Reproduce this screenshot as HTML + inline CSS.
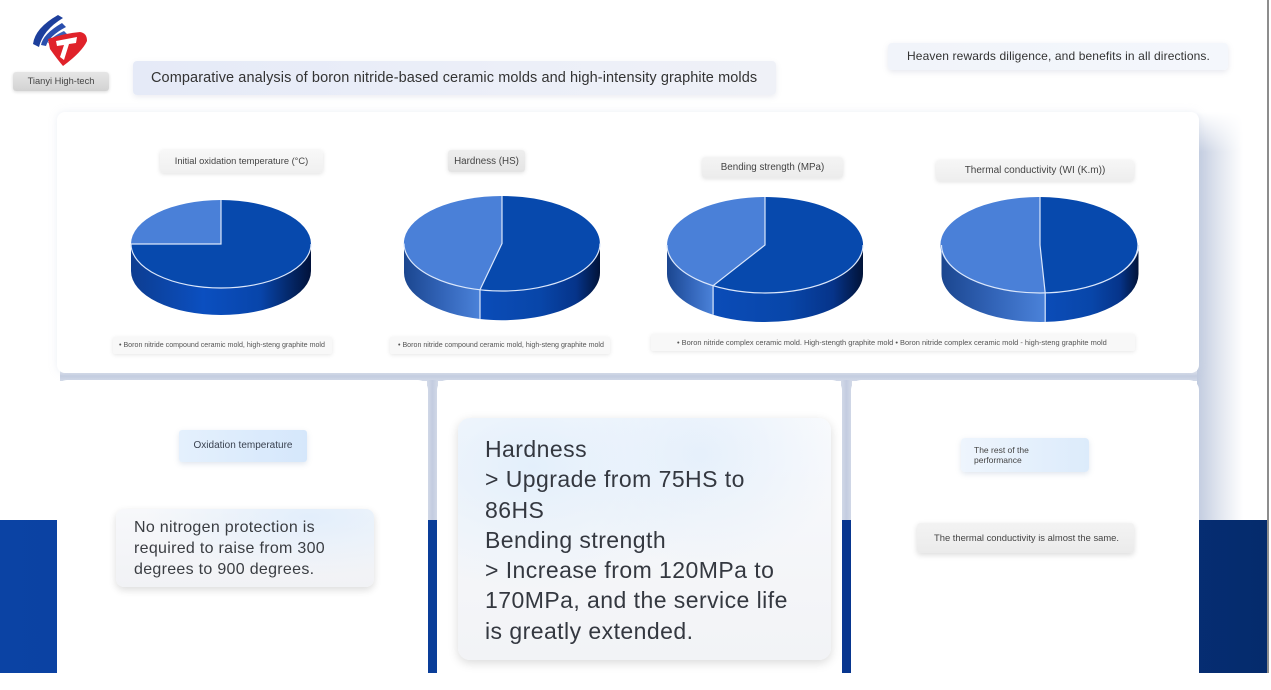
<!DOCTYPE html>
<html><head><meta charset="utf-8">
<style>
*{margin:0;padding:0;box-sizing:border-box}
html,body{width:1271px;height:673px;overflow:hidden;background:#fff;font-family:"Liberation Sans",sans-serif;color:#333}
.a{position:absolute}
.card{position:absolute;background:#fff}
.lbl{position:absolute;white-space:nowrap}
</style></head><body>
<!-- navy band -->
<div class="a" style="left:0;top:520px;width:1268px;height:153px;background:linear-gradient(90deg,#0b43a4 0%,#0a3d97 40%,#083791 65%,#052b6c 100%)"></div>
<!-- right edge line -->
<div class="a" style="left:1267px;top:0;width:2px;height:673px;background:#8d8d8d"></div>
<!-- shadows / gaps -->
<div class="a" style="left:60px;top:371px;width:1139px;height:10px;background:linear-gradient(180deg,#dfe4ee,#c4cde0 50%,#d3dae8)"></div>
<div class="a" style="left:427px;top:380px;width:11px;height:140px;background:linear-gradient(90deg,#d3dae8,#c3cce0 50%,#d3dae8)"></div>
<div class="a" style="left:841px;top:380px;width:11px;height:140px;background:linear-gradient(90deg,#d3dae8,#c3cce0 50%,#d3dae8)"></div>
<div class="a" style="left:1197px;top:112px;width:46px;height:408px;background:linear-gradient(90deg,#c1cbdf,#dfe4ee 45%,#fff);-webkit-mask-image:linear-gradient(180deg,transparent 0,#000 40px);mask-image:linear-gradient(180deg,transparent 0,#000 40px)"></div>
<!-- cards -->
<div class="card" style="left:57px;top:112px;width:1142px;height:261px;border-radius:8px;box-shadow:0 0 8px rgba(200,208,225,.35)"></div>
<div class="card" style="left:57px;top:380px;width:371px;height:310px;border-radius:10px"></div>
<div class="card" style="left:437px;top:380px;width:405px;height:310px;border-radius:10px"></div>
<div class="card" style="left:851px;top:380px;width:348px;height:310px;border-radius:10px"></div>

<!-- logo -->
<svg class="a" style="left:0;top:0" width="110" height="75" viewBox="0 0 110 75">
<path d="M33,44 Q35,28 58,15 L63,18 Q43,30 39,47 Z" fill="#1d3f9c"/>
<path d="M41,45 Q43,34 62,23 L66,27 Q49,36 46,46 Z" fill="#2a4fae"/>
<path d="M48,43 Q51,37 64,31 L67,34 Q57,38 53,44 Z" fill="#3a5fb8"/>
<path d="M48,39 Q66,33 80,32 Q87,33 87,41 Q82,52 63,66 Q57,59 50,49 Z" fill="#e0222a"/>
<path d="M56,41 L77,37 L76,43 L69,44 L64,60 L60,57 L64,45 L57,46 Z" fill="#fff"/>
</svg>
<div class="lbl" style="left:13px;top:72px;width:96px;height:19px;border-radius:3px;background:linear-gradient(180deg,#e6e6e6,#d2d2d2);box-shadow:0 1px 3px rgba(0,0,0,.15);font-size:9.3px;line-height:19px;text-align:center;color:#444">Tianyi High-tech</div>

<!-- title -->
<div class="lbl" style="left:133px;top:61px;width:643px;height:34px;border-radius:4px;background:linear-gradient(90deg,#e5eaf7,#eceff8 60%,#eff1f7);box-shadow:0 2px 6px rgba(120,130,160,.15);font-size:14.5px;letter-spacing:0.09px;line-height:34px;padding-left:18px;color:#333">Comparative analysis of boron nitride-based ceramic molds and high-intensity graphite molds</div>
<div class="lbl" style="left:888px;top:43px;width:340px;height:27px;border-radius:4px;background:linear-gradient(90deg,#f1f4fa,#f4f7fc);box-shadow:0 2px 6px rgba(120,130,160,.18);font-size:12px;letter-spacing:0.12px;line-height:27px;padding-left:19px;color:#333">Heaven rewards diligence, and benefits in all directions.</div>

<!-- pie title boxes -->
<div class="lbl" style="left:160px;top:150px;width:163px;height:23px;border-radius:3px;background:linear-gradient(180deg,#f8f8f8,#f0f0f0);box-shadow:0 1px 4px rgba(0,0,0,.12);font-size:9.3px;line-height:23px;text-align:center;color:#444">Initial oxidation temperature (°C)</div>
<div class="lbl" style="left:448px;top:150px;width:77px;height:22px;border-radius:3px;background:linear-gradient(180deg,#eeeeee,#e4e4e4);box-shadow:0 1px 4px rgba(0,0,0,.12);font-size:9.8px;line-height:23px;text-align:center;color:#444">Hardness (HS)</div>
<div class="lbl" style="left:702px;top:157px;width:141px;height:21px;border-radius:3px;background:linear-gradient(180deg,#f4f4f4,#ececec);box-shadow:0 1px 4px rgba(0,0,0,.12);font-size:9.8px;line-height:21px;text-align:center;color:#444">Bending strength (MPa)</div>
<div class="lbl" style="left:936px;top:160px;width:198px;height:21px;border-radius:3px;background:linear-gradient(180deg,#f6f6f6,#eeeeee);box-shadow:0 1px 4px rgba(0,0,0,.12);font-size:10px;line-height:21px;text-align:center;color:#444">Thermal conductivity (WI (K.m))</div>

<!-- legends -->
<div class="lbl" style="left:113px;top:337px;width:219px;height:17px;border-radius:2px;background:#f8f8f8;box-shadow:0 1px 4px rgba(0,0,0,.1);font-size:7.1px;line-height:17px;padding-left:6px;color:#555">• Boron nitride compound ceramic mold, high-steng graphite mold</div>
<div class="lbl" style="left:390px;top:337px;width:220px;height:17px;border-radius:2px;background:#f8f8f8;box-shadow:0 1px 4px rgba(0,0,0,.1);font-size:7.1px;line-height:17px;padding-left:8px;color:#555">• Boron nitride compound ceramic mold, high-steng graphite mold</div>
<div class="lbl" style="left:651px;top:334px;width:484px;height:17px;border-radius:2px;background:#f8f8f8;box-shadow:0 1px 4px rgba(0,0,0,.1);font-size:7.45px;line-height:17px;padding-left:26px;color:#555">• Boron nitride complex ceramic mold. High-stength graphite mold • Boron nitride complex ceramic mold - high-steng graphite mold</div>

<!-- pies -->
<svg class="a" style="left:0;top:0" width="1271" height="673" viewBox="0 0 1271 673">
<defs>
<linearGradient id="d1" x1="0" x2="1" y1="0" y2="0"><stop offset="0" stop-color="#0d3d91"/><stop offset=".4" stop-color="#0b4fc0"/><stop offset=".72" stop-color="#0845aa"/><stop offset="1" stop-color="#01123a"/></linearGradient>
<linearGradient id="dk" x1="0" x2="1" y1="0" y2="0"><stop offset="0" stop-color="#0b4cb8"/><stop offset=".5" stop-color="#0846a9"/><stop offset=".8" stop-color="#06348a"/><stop offset="1" stop-color="#011338"/></linearGradient>
<linearGradient id="lt" x1="0" x2="1" y1="0" y2="0"><stop offset="0" stop-color="#1b468f"/><stop offset=".5" stop-color="#3264b8"/><stop offset="1" stop-color="#4b82d9"/></linearGradient>
</defs>
<g stroke="none">
<path d="M311,244 A90,44 0 0 1 131,244 L131,271 A90,44 0 0 0 311,271 Z" fill="url(#d1)"/>
<path d="M221,244 L221,200 A90,44 0 1 1 131,244 Z" fill="#0749ad"/>
<path d="M221,244 L131,244 A90,44 0 0 1 221,200 Z" fill="#4a80d8"/>
<path d="M600,243.5 A98,47.5 0 0 1 480,289.8 L480,319 A98,47.5 0 0 0 600,272.5 Z" fill="url(#dk)"/>
<path d="M480,289.8 A98,47.5 0 0 1 404,243.5 L404,272.5 A98,47.5 0 0 0 480,319 Z" fill="url(#lt)"/>
<path d="M502,243.5 L502,196 A98,47.5 0 1 1 480,289.8 Z" fill="#0749ad"/>
<path d="M502,243.5 L480,289.8 A98,47.5 0 0 1 502,196 Z" fill="#4a80d8"/>
<path d="M863,245 A98,48 0 0 1 713.1,285.7 L713.1,314.7 A98,48 0 0 0 863,274 Z" fill="url(#dk)"/>
<path d="M713.1,285.7 A98,48 0 0 1 667,245 L667,274 A98,48 0 0 0 713.1,314.7 Z" fill="url(#lt)"/>
<path d="M765,245 L765,197 A98,48 0 1 1 713.1,285.7 Z" fill="#0749ad"/>
<path d="M765,245 L713.1,285.7 A98,48 0 0 1 765,197 Z" fill="#4a80d8"/>
<path d="M1138.5,245 A98.5,48 0 0 1 1045.2,292.9 L1045.2,321.9 A98.5,48 0 0 0 1138.5,274 Z" fill="url(#dk)"/>
<path d="M1045.2,292.9 A98.5,48 0 0 1 941.5,245 L941.5,274 A98.5,48 0 0 0 1045.2,321.9 Z" fill="url(#lt)"/>
<path d="M1040,245 L1040,197 A98.5,48 0 0 1 1045.2,292.9 Z" fill="#0749ad"/>
<path d="M1040,245 L1045.2,292.9 A98.5,48 0 1 1 1040,197 Z" fill="#4a80d8"/>
</g>
<g fill="none" stroke="#dbe7fb" stroke-width="1.2">
<path d="M311,244 A90,44 0 0 1 131,244"/><path d="M221,200 L221,244 L131,244"/>
<path d="M600,243.5 A98,47.5 0 0 1 404,243.5"/><path d="M502,196 L502,243.5 L480,289.8 L480,319"/>
<path d="M863,245 A98,48 0 0 1 667,245"/><path d="M765,197 L765,245 L713.1,285.7 L713.1,314.7"/>
<path d="M1138.5,245 A98.5,48 0 0 1 941.5,245"/><path d="M1040,197 L1040,245 L1045.2,292.9 L1045.2,321.9"/>
</g>
</svg>

<!-- card 1 -->
<div class="lbl" style="left:179px;top:430px;width:128px;height:32px;border-radius:3px;background:linear-gradient(90deg,#e4f0fd,#d5e7fb);box-shadow:0 2px 6px rgba(100,130,170,.2);font-size:10px;line-height:32px;text-align:center;color:#3a4250">Oxidation temperature</div>
<div class="a" style="left:116px;top:509px;width:258px;height:78px;border-radius:8px;background:radial-gradient(ellipse at 75% 10%,#e2eefb 0%,rgba(240,244,250,0) 60%),linear-gradient(180deg,#f7f8fb,#f1f2f5);box-shadow:0 3px 8px rgba(0,0,0,.14);font-size:16px;letter-spacing:0.3px;line-height:21px;padding:8px 0 0 18px;color:#3a3d42;white-space:nowrap">No nitrogen protection is<br>required to raise from 300<br>degrees to 900 degrees.</div>

<!-- card 2 -->
<div class="a" style="left:458px;top:418px;width:373px;height:242px;border-radius:12px;background:radial-gradient(ellipse at 20% 20%,#e3effb 0%,rgba(255,255,255,0) 45%),radial-gradient(ellipse at 65% 15%,#e6f0fb 0%,rgba(255,255,255,0) 40%),linear-gradient(180deg,#f8fafd,#f2f3f6);box-shadow:0 3px 10px rgba(0,0,0,.15);font-size:23px;letter-spacing:0.45px;line-height:30.3px;padding:16px 0 0 27px;color:#343840;white-space:nowrap">Hardness<br>&gt; Upgrade from 75HS to<br>86HS<br>Bending strength<br>&gt; Increase from 120MPa to<br>170MPa, and the service life<br>is greatly extended.</div>

<!-- card 3 -->
<div class="lbl" style="left:961px;top:438px;width:128px;height:34px;border-radius:4px;background:linear-gradient(90deg,#eef5fd,#dcebfb);box-shadow:0 2px 6px rgba(100,130,170,.2);font-size:8.5px;line-height:9.5px;padding:8px 0 0 13px;color:#444">The rest of the<br>performance</div>
<div class="lbl" style="left:917px;top:523px;width:217px;height:30px;border-radius:3px;background:linear-gradient(180deg,#f3f3f3,#ebebeb);box-shadow:0 2px 6px rgba(0,0,0,.14);font-size:9.4px;line-height:30px;padding-left:17px;color:#444">The thermal conductivity is almost the same.</div>
</body></html>
